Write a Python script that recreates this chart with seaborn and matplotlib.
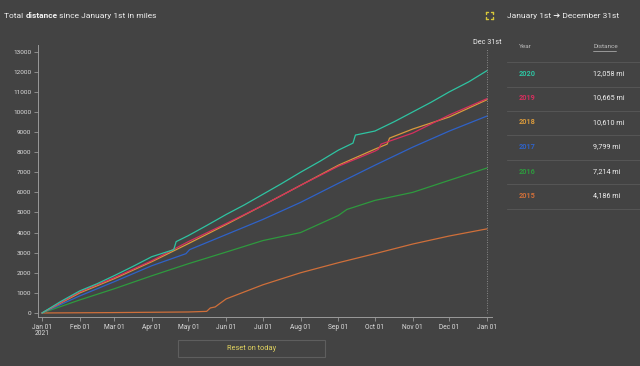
import numpy as np
import pandas as pd
import seaborn as sns
import matplotlib.pyplot as plt
from matplotlib.lines import Line2D
from matplotlib.patches import Rectangle

# cumulative distance (miles), by day of year
days_2020 = [0, 15, 31, 45, 59, 75, 90, 108, 110, 120, 135, 151, 166, 181, 196, 212, 228, 243, 255, 257, 273, 289, 304, 319, 334, 350, 365]
vals_2020 = [0, 560, 1100, 1450, 1850, 2330, 2800, 3150, 3550, 3850, 4350, 4900, 5380, 5900, 6420, 7000, 7550, 8100, 8450, 8850, 9050, 9520, 10000, 10480, 11000, 11500, 12058]

days_2019 = [0, 31, 59, 90, 120, 151, 181, 212, 243, 273, 276, 278, 304, 334, 365]
vals_2019 = [0, 1050, 1750, 2600, 3550, 4450, 5350, 6350, 7300, 8050, 8150, 8400, 8950, 9850, 10665]

days_2018 = [0, 31, 59, 90, 120, 151, 181, 212, 243, 273, 283, 285, 304, 334, 365]
vals_2018 = [0, 1000, 1700, 2550, 3450, 4400, 5350, 6350, 7350, 8150, 8400, 8700, 9150, 9750, 10610]

days_2017 = [0, 31, 59, 90, 118, 121, 151, 181, 212, 243, 273, 304, 334, 365]
vals_2017 = [0, 850, 1550, 2350, 2950, 3150, 3900, 4650, 5500, 6450, 7350, 8250, 9050, 9799]

days_2016 = [0, 31, 59, 90, 120, 151, 181, 212, 243, 250, 273, 304, 334, 365]
vals_2016 = [0, 650, 1200, 1850, 2450, 3030, 3600, 4000, 4850, 5150, 5600, 6000, 6600, 7214]

days_2015 = [0, 60, 120, 135, 138, 142, 146, 151, 181, 212, 243, 273, 304, 334, 365]
vals_2015 = [0, 20, 50, 80, 250, 300, 480, 700, 1400, 2000, 2500, 2950, 3430, 3830, 4186]

years = ['2020', '2019', '2018', '2017', '2016', '2015']
totals = ['12,058 mi', '10,665 mi', '10,610 mi', '9,799 mi', '7,214 mi', '4,186 mi']
colors = ['#2ec4a2', '#d62f5e', '#d99a3c', '#2f62c8', '#2e9a3e', '#cf6f3a']

month_days = [0, 31, 59, 90, 120, 151, 181, 212, 243, 273, 304, 334, 365]
month_labels = ['Jan 01\n2021', 'Feb 01', 'Mar 01', 'Apr 01', 'May 01', 'Jun 01', 'Jul 01',
                'Aug 01', 'Sep 01', 'Oct 01', 'Nov 01', 'Dec 01', 'Jan 01']
y_ticks = list(range(0, 13001, 1000))

series = {'2020': (days_2020, vals_2020), '2019': (days_2019, vals_2019),
          '2018': (days_2018, vals_2018), '2017': (days_2017, vals_2017),
          '2016': (days_2016, vals_2016), '2015': (days_2015, vals_2015)}
frames = [pd.DataFrame({'day': d, 'miles': v, 'year': y}) for y, (d, v) in series.items()]
df = pd.concat(frames[::-1], ignore_index=True)

bg = '#434343'
sns.set_theme(style='dark', rc={'figure.facecolor': bg, 'axes.facecolor': bg})
plt.rcParams['font.family'] = ['Roboto', 'DejaVu Sans']

fig = plt.figure(figsize=(6.4, 3.66), dpi=100)
ax = fig.add_axes([38 / 640, 1 - 317 / 366, (492 - 38) / 640, (317 - 45) / 366])

sns.lineplot(data=df, x='day', y='miles', hue='year', palette=dict(zip(years, colors)),
             hue_order=years[::-1], linewidth=0.9, legend=False, ax=ax, estimator=None, sort=False)

ax.set_xlim(-3.3, 369)
ax.set_ylim(-200, 13330)
ax.set_xticks(month_days)
ax.set_xticklabels(month_labels, fontsize=4.8, color='#dddddd', linespacing=0.75)
ax.set_yticks(y_ticks)
ax.set_yticklabels([str(t) for t in y_ticks], fontsize=4.6, color='#dddddd')
ax.tick_params(axis='both', length=3, width=0.6, color='#999999', pad=2, bottom=True, left=True)
ax.set_xlabel('')
ax.set_ylabel('')
for s in ['top', 'right']:
    ax.spines[s].set_visible(False)
for s in ['left', 'bottom']:
    ax.spines[s].set_color('#9a9a9a')
    ax.spines[s].set_linewidth(0.7)
ax.grid(False)

# end-of-range marker
ax.plot([365, 365], [0, 13180], color='#8a8a8a', lw=0.7, ls=(0, (1, 1.5)))
fig.text(487 / 640, 1 - 43 / 366, 'Dec 31st', fontsize=5.2, color='#eeeeee', ha='center', va='center')

# title with bold word
fig.canvas.draw()
r = fig.canvas.get_renderer()
x = 4 / 640
for txt, w in [('Total ', 'normal'), ('distance', 'bold'), (' since January 1st in miles', 'normal')]:
    t = fig.text(x, 1 - 18 / 366, txt, fontsize=6, color='#f0f0f0', fontweight=w, va='baseline')
    bb = t.get_window_extent(renderer=r)
    x += bb.width / fig.bbox.width

fig.text(507 / 640, 1 - 18 / 366, 'January 1st \u2794 December 31st', fontsize=6, color='#f0f0f0',
         va='baseline', family=['Roboto', 'DejaVu Sans'])

# expand icon
cx, cy, h = 489, 15, 3.5
for sx in (-1, 1):
    for sy in (-1, 1):
        x0, y0 = cx + sx * h, cy + sy * h
        fig.add_artist(Line2D([x0 / 640, (x0 - sx * 2) / 640], [1 - y0 / 366, 1 - y0 / 366], color='#d8c83a', lw=1))
        fig.add_artist(Line2D([x0 / 640, x0 / 640], [1 - y0 / 366, 1 - (y0 - sy * 2) / 366], color='#d8c83a', lw=1))

# table
fig.text(519 / 640, 1 - 47 / 366, 'Year', fontsize=4.6, color='#bbbbbb', va='center')
fig.text(593 / 640, 1 - 47 / 366, 'Distance', fontsize=4.6, color='#bbbbbb', va='center')
fig.add_artist(Line2D([593 / 640, 616 / 640], [1 - 50.5 / 366, 1 - 50.5 / 366], color='#bbbbbb', lw=0.5))
row_y = [73.5, 98, 122.5, 147, 171.5, 196]
sep_y = [62.3, 86.7, 111, 135.3, 160, 184.3, 209]
for yy in sep_y:
    fig.add_artist(Line2D([507 / 640, 1], [1 - yy / 366, 1 - yy / 366], color='#555555', lw=0.8))
for yr, tot, c, yy in zip(years, totals, colors, row_y):
    fig.text(519 / 640, 1 - yy / 366, yr, fontsize=5.2, color=c, fontweight='bold', va='center')
    fig.text(593 / 640, 1 - yy / 366, tot, fontsize=5.2, color='#f0f0f0', va='center')

# reset button
fig.add_artist(Rectangle((178 / 640, 1 - 357 / 366), 147 / 640, 17 / 366, fill=False,
                         edgecolor='#5e5e5e', lw=0.8, transform=fig.transFigure))
fig.text(251.5 / 640, 1 - 348.5 / 366, 'Reset on today', fontsize=5.3, color='#e2d460', ha='center', va='center')

fig.savefig('out.png', dpi=100, facecolor=bg)
